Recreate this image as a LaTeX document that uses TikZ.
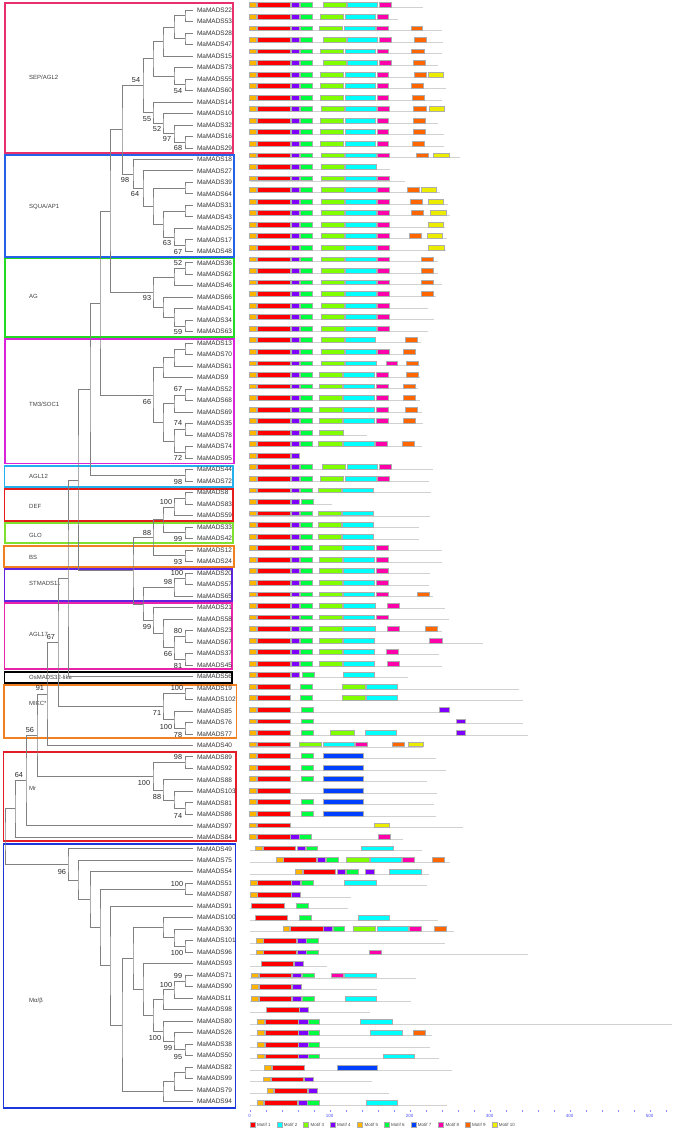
\documentclass[tikz,border=0pt]{standalone}
\usepackage{fontspec}
\setmainfont{Liberation Sans}
\usetikzlibrary{calc}

% Colores de motivos
\definecolor{mot1}{RGB}{255,0,0}
\definecolor{mot2}{RGB}{0,255,255}
\definecolor{mot3}{RGB}{128,255,0}
\definecolor{mot4}{RGB}{128,0,255}
\definecolor{mot5}{RGB}{255,180,0}
\definecolor{mot6}{RGB}{0,255,64}
\definecolor{mot7}{RGB}{0,64,255}
\definecolor{mot8}{RGB}{255,0,170}
\definecolor{mot9}{RGB}{255,102,0}
\definecolor{mot10}{RGB}{236,236,0}
% Colores de clados
\definecolor{cSEP}{RGB}{232,48,108}
\definecolor{cSQUA}{RGB}{38,98,232}
\definecolor{cAG}{RGB}{36,216,36}
\definecolor{cTM}{RGB}{216,36,216}
\definecolor{cAGL12}{RGB}{36,176,236}
\definecolor{cDEF}{RGB}{228,28,28}
\definecolor{cGLO}{RGB}{128,224,48}
\definecolor{cBS}{RGB}{240,128,32}
\definecolor{cSTM}{RGB}{96,36,224}
\definecolor{cAGL17}{RGB}{232,36,168}
\definecolor{cMr}{RGB}{228,28,40}
\definecolor{cMab}{RGB}{28,56,220}

\tikzset{
  rama/.style={draw=black!50, line width=0.75pt},
  hoja/.style={anchor=west, inner sep=0pt, font=\fontsize{6.5}{7}\selectfont, text=black!80},
  bs/.style={inner sep=0pt, font=\fontsize{7.3}{8}\selectfont, text=black!85},
  clado/.style={line width=1.6pt},
  cladotxt/.style={anchor=west, inner sep=0pt, font=\fontsize{6}{7}\selectfont, text=black!75},
  motivo/.style={draw=black!32, line width=0.3pt},
  proteina/.style={draw=black!18, line width=1pt},
  leyenda/.style={anchor=west, inner sep=0pt, font=\fontsize{4.5}{5}\selectfont, text=black!70},
  escala/.style={inner sep=0pt, font=\fontsize{4.5}{5}\selectfont, text=blue!70},
}

% Bloques de motivos frecuentes
\def\mikcN{5/249.5/256,1/257/290,4/291/299,6/300/312}
\def\kA{3/323/346,2/347/377,8/379/391}
\def\kB{3/320.5/343,2/345/375,8/377/388.5}
\def\kC{3/319/342.5,2/343.5/374,8/376/388}
\def\kD{3/321/344,2/345/376,8/377/389}

\newcommand\filamotivos[3]{%
  \pgfmathsetmacro\ybase{7.4+(#1-1)*11.55}%
  \draw[proteina] (249.5,{\ybase+0.4}) -- (#2,{\ybase+0.4});
  \edef\seglist{#3}%
  \foreach \m/\a/\b in \seglist {\draw[motivo, fill=mot\m] (\a,{\ybase-4.8}) rectangle (\b,\ybase);}%
}

\begin{document}
\begin{tikzpicture}[x=1pt, y=-1pt]
  \useasboundingbox (0,0) rectangle (675,1131);

  % Cajas de clados
  \foreach \xa/\ya/\xb/\yb/\col/\txt/\ty [count=\k] in {
    5/3/233/153/cSEP/{SEP/AGL2}/77,
    5/155/234/257/cSQUA/{SQUA/AP1}/207,
    5/258.5/234/337/cAG/AG/296,
    5/339/234/463.5/cTM/{TM3/SOC1}/404,
    4.5/466/233/487/cAGL12/AGL12/476,
    4.5/489/233/521/cDEF/DEF/506,
    5/523/233/543/cGLO/GLO/535,
    4/546/234/567/cBS/BS/557,
    4.5/569/232/601/cSTM/STMADS11/583,
    4.5/603/232/669/cAGL17/AGL17/634,
    4.5/672/232/683/black/OsMADS32-like/677,
    4/685/236.5/738/cBS/MIKC*/703,
    3.5/752/236/841/cMr/Mr/788,
    3.5/844/235.5/1108/cMab/{Mα/β}/1001} {
    \draw[clado, draw=\col] (\xa,\ya) rectangle (\xb,\yb);
    \node[cladotxt] (clado\k) at (29,\ty) {\txt};
  }

  % Hojas
  \foreach \lbl [count=\i] in {22,53,28,47,15,73,55,60,14,10,32,16,29,18,27,39,64,31,43,25,
      17,48,36,62,46,66,41,34,63,13,70,61,9,52,68,69,35,78,74,95,44,72,8,83,59,33,42,12,24,20,
      57,65,21,58,23,67,37,45,56,19,102,85,76,77,40,89,92,88,103,81,86,97,84,49,75,54,51,87,91,100,
      30,101,96,93,71,90,11,98,80,26,38,50,82,99,79,94} {
    \coordinate (L\i) at (193,{10+(\i-1)*11.49});
    \node[hoja] (t\i) at (196.8,{10+(\i-1)*11.49}) {MaMADS\lbl};
  }

  % Ramas (nodo/x/hijo1/hijo2)
  \foreach \nd/\xx/\ca/\cb in {
    a1/185/L1/L2, a2/185/L3/L4, a3/174/a1/a2, a4/163/a3/L5, a5/185/L7/L8, a6/174/L6/a5,
    a7/153/a4/a6, a8/185/L12/L13, a9/174/L11/a8, a10/163/L10/a9, a11/153/L9/a10, sep/143/a7/a11,
    b1/185/L16/L17, b2/185/L18/L19, b3/185/L21/L22, b4/174/L20/b3, b5/163/b2/b4, b6/153/b1/b5,
    b7/143/L15/b6, squa/133/L14/b7, c1/122/sep/squa,
    d1/185/L23/L24, d2/174/d1/L25, d3/185/L28/L29, d4/174/L27/d3, d5/163/L26/d4, ag/153/d2/d5,
    c2/110/c1/ag,
    e1/185/L30/L31, e2/174/e1/L32, e3/163/e2/L33, e4/185/L34/L35, e5/174/e4/L36, e6/185/L37/L38,
    e7/185/L39/L40, e8/174/e6/e7, e9/163/e5/e8, tm/153/e3/e9, c3/100/c2/tm,
    f1/185/L41/L42, c4/90/c3/f1,
    g1/185/L43/L44, g2/174/g1/L45, g3/185/L46/L47, g4/163/g2/g3, g5/185/L48/L49, g6/153/g4/g5,
    h1/185/L50/L51, h2/174/h1/L52,
    i1/185/L55/L56, i2/185/L57/L58, i3/174/i1/i2, i4/163/L54/i3, i5/153/L53/i4,
    h3/143/h2/i5, h4/133/g6/h3, k1/78/c4/h4, k2/68/k1/L59,
    j1/185/L60/L61, j2/185/L63/L64, j3/174/L62/j2, j4/163/j1/j3, k3/58/k2/j4, k4/47/k3/L65,
    m1/185/L66/L67, m2/185/L70/L71, m3/174/L69/m2, m4/163/L68/m3, m5/153/m1/m4,
    k5/37/k4/m5, k6/26/k5/L72, k7/15/k6/L73,
    p1/185/L77/L78, p2/185/L82/L83, p3/174/L81/p2, p4/163/L80/p3, p5/185/L85/L86, p6/174/p5/L87,
    p7/163/p6/L88, p8/185/L91/L92, p9/174/L90/p8, p10/163/L89/p9, p11/153/p7/p10, p12/143/L84/p11,
    p13/133/p4/p12, p14/185/L93/L94, p15/174/p14/L95, p16/163/p15/L96, p17/122/p13/p16,
    p18/110/L79/p17, p19/100/p1/p18, p20/90/L76/p19, p21/78/L75/p20, p22/68/L74/p21,
    raiz/5/k7/p22} {
    \path (\ca) -- (\cb) coordinate[pos=0.5] (tmp);
    \coordinate (\nd) at (tmp -| \xx,0);
    \draw[rama] (\ca) -| (\nd) |- (\cb);
  }

  % Valores bootstrap
  \foreach \xb/\yy/\v [count=\k] in {178/91/54, 136/80/54, 147/119/55, 157/129/52, 167/139/97,
      178/148/68, 125/180/98, 135/194/64, 167/243/63, 178/252/67, 178/263/52, 147/298/93,
      178/332/59, 178/389/67, 147/402/66, 178/423/74, 178/458/72, 178/482/98, 166/502/100,
      147/533/88, 178/539/99, 178/562/93, 177/573/100, 168/582/98, 147/627/99, 178/631/80,
      168/654/66, 178/666/81, 51/637/67, 40/688/91, 177/688/100, 157/713/71, 166/727/100,
      178/735/78, 30/730/56, 178/757/98, 144/783/100, 157/797/88, 178/816/74, 19/775/64,
      62/872/96, 177/884/100, 177/953/100, 178/976/99, 166/985/100, 155/1038/100,
      168/1048/99, 178/1057/95}
    \node[bs] (bs\k) at (\xb,\yy) {\v};

  % Motivos
  \filamotivos{1}{423}{\mikcN,\kA}
  \filamotivos{2}{398}{\mikcN,\kB}
  \filamotivos{3}{442}{\mikcN,3/319/342,2/344/375,8/376/388,9/411/422}
  \filamotivos{4}{443}{\mikcN,\kA,9/414/426}
  \filamotivos{5}{442}{\mikcN,\kB,9/411/424}
  \filamotivos{6}{438}{\mikcN,\kA,9/413/425}
  \filamotivos{7}{444}{\mikcN,\kB,9/414/426,10/428/443}
  \filamotivos{8}{446}{\mikcN,\kB,9/411/423}
  \filamotivos{9}{442}{\mikcN,\kB,9/412/424}
  \filamotivos{10}{445}{\mikcN,\kD,9/413/426,10/429/444}
  \filamotivos{11}{438}{\mikcN,\kB,9/413/425}
  \filamotivos{12}{444}{\mikcN,\kB,9/413/425}
  \filamotivos{13}{444}{\mikcN,\kB,9/412/424}
  \filamotivos{14}{460}{\mikcN,\kD,9/416/428,10/433/449}
  \filamotivos{15}{390}{\mikcN,3/321/344,2/345/376}
  \filamotivos{16}{405}{\mikcN,\kD}
  \filamotivos{17}{440}{\mikcN,\kD,9/407/419,10/421/436}
  \filamotivos{18}{448}{\mikcN,\kD,9/410/422,10/428/443}
  \filamotivos{19}{450}{\mikcN,\kD,9/411/423,10/430/446}
  \filamotivos{20}{445}{\mikcN,\kD,10/428/443}
  \filamotivos{21}{447}{\mikcN,\kD,9/409/421,10/427/442}
  \filamotivos{22}{446}{\mikcN,\kD,10/428/444}
  \filamotivos{23}{438}{\mikcN,\kD,9/421/433}
  \filamotivos{24}{438}{\mikcN,\kD,9/421/433}
  \filamotivos{25}{442}{\mikcN,\kD,9/421/433}
  \filamotivos{26}{436}{\mikcN,\kD,9/421/433}
  \filamotivos{27}{428}{\mikcN,\kD}
  \filamotivos{28}{434}{\mikcN,\kD}
  \filamotivos{29}{428}{\mikcN,\kD}
  \filamotivos{30}{421}{\mikcN,3/321/344,2/345/375,9/405/417}
  \filamotivos{31}{415}{\mikcN,\kD,9/403/415}
  \filamotivos{32}{420}{\mikcN,3/321/344,2/345/376,8/386/397,9/406/418}
  \filamotivos{33}{420}{\mikcN,\kC,9/406/418}
  \filamotivos{34}{418}{\mikcN,\kC,9/403/415}
  \filamotivos{35}{420}{\mikcN,\kC,9/403/415}
  \filamotivos{36}{422}{\mikcN,\kC,9/405/417}
  \filamotivos{37}{423}{\mikcN,\kC,9/403/415}
  \filamotivos{38}{367}{\mikcN,3/319/343}
  \filamotivos{39}{422}{\mikcN,3/318.5/342,2/343/374,8/375/387,9/402/414}
  \filamotivos{40}{299}{5/249.5/256,1/257/290,4/291/299}
  \filamotivos{41}{433}{\mikcN,3/322/345,2/347/377,8/379/391}
  \filamotivos{42}{429}{\mikcN,3/320/343,2/345/376,8/377/389}
  \filamotivos{43}{431}{\mikcN,3/318/341,2/342/373}
  \filamotivos{44}{332}{5/249.5/256,1/257/290,4/291/299,6/301/313}
  \filamotivos{45}{430}{\mikcN,3/318/341,2/342/373}
  \filamotivos{46}{419}{\mikcN,3/318/341,2/342/373}
  \filamotivos{47}{419}{\mikcN,3/318/341,2/342/373}
  \filamotivos{48}{442}{\mikcN,\kC}
  \filamotivos{49}{442}{\mikcN,\kC}
  \filamotivos{50}{430}{\mikcN,\kC}
  \filamotivos{51}{429}{\mikcN,\kC}
  \filamotivos{52}{433}{\mikcN,\kC,9/417/429}
  \filamotivos{53}{445}{\mikcN,3/319/342,2/343/375,8/387/399}
  \filamotivos{54}{449}{\mikcN,\kC}
  \filamotivos{55}{442}{\mikcN,3/319/342,2/343/375,8/387/399,9/425/437}
  \filamotivos{56}{483}{\mikcN,3/319/342,2/343/374,8/429/442}
  \filamotivos{57}{439}{\mikcN,3/319/342,2/343/374,8/386/398}
  \filamotivos{58}{442}{\mikcN,3/319/342,2/343/374,8/387/399}
  \filamotivos{59}{408}{5/249.5/256,1/257/290,4/291/299,6/302/314,2/343/374}
  \filamotivos{60}{519}{5/249.5/256,1/257/290,6/300/312,3/342/365,2/366/397}
  \filamotivos{61}{523}{5/249.5/256,1/257/290,6/300/312,3/342/365,2/366/397}
  \filamotivos{62}{449}{5/249.5/256,1/257/290,6/301/313,4/439/449}
  \filamotivos{63}{523}{5/249.5/256,1/257/290,6/301/313,4/456/465}
  \filamotivos{64}{528}{5/249.5/256,1/257/290,6/301/313,3/330/354,2/365/396,4/456/465}
  \filamotivos{65}{423}{5/249.5/256,1/257/290,3/299/321,2/323/354,8/355/367,9/392/404,10/408/423}
  \filamotivos{66}{436}{5/249.5/256,1/257/290,6/301/313,7/323/363}
  \filamotivos{67}{446}{5/249.5/256,1/257/290,6/301/313,7/323/363}
  \filamotivos{68}{427}{5/249.5/256,1/257/290,6/301/313,7/323/363}
  \filamotivos{69}{437}{5/249.5/256,1/257/290,7/323/363}
  \filamotivos{70}{434}{5/249.5/256,1/257/290,6/301/313,7/323/363}
  \filamotivos{71}{436}{5/249.5/256,1/257/290,6/301/313,7/323/363}
  \filamotivos{72}{463}{5/249.5/256,1/257/290,10/374/389}
  \filamotivos{73}{403}{5/249.5/256,1/257/290,4/290/299,6/299/311,8/378/390}
  \filamotivos{74}{422}{5/255/262,1/263/295,4/297/305,6/306/317,2/361/393}
  \filamotivos{75}{450}{5/276/283,1/283.5/316,4/317/325,6/326/338,3/346/369,2/370/401,8/402/414,9/432/444}
  \filamotivos{76}{429}{5/295/302,1/303/335,4/337/345,6/346/358,4/365/374,2/389/421}
  \filamotivos{77}{427}{5/250/257,1/257.5/291,4/291.5/300,6/301/313,2/344/376}
  \filamotivos{78}{351}{5/250/257,1/257.5/291,4/291.5/300}
  \filamotivos{79}{348}{1/251/284,6/296/308}
  \filamotivos{80}{438}{1/255/287,6/299/311,2/358/389}
  \filamotivos{81}{454}{5/283/289.5,1/290/323,4/323.5/332,6/333/344,3/353/375,2/377/408,8/409/421,9/434/446}
  \filamotivos{82}{445}{5/256/263,1/263.5/296,4/297/306,6/306/318}
  \filamotivos{83}{528}{5/256/263,1/263.5/296,4/297/306,6/306/318,8/369/381}
  \filamotivos{84}{327}{1/261/293,4/294/303}
  \filamotivos{85}{416}{5/251/258,1/259/291,4/292/301,6/302/314,8/331/343,2/344/376}
  \filamotivos{86}{377}{5/251/258,1/259/291,4/292/301}
  \filamotivos{87}{411}{5/251/258,1/259/291,4/292/301,6/302/314,2/345/376}
  \filamotivos{88}{370}{1/266/299,4/299.5/308}
  \filamotivos{89}{672}{5/257/264,1/265/298,4/298.5/308,6/308/319,2/360/392}
  \filamotivos{90}{432}{5/257/264,1/265/298,4/298.5/308,6/308/319,2/370/402,9/413/425}
  \filamotivos{91}{430}{5/257/264,1/265/298,4/298.5/308,6/308/319}
  \filamotivos{92}{439}{5/257/264,1/265/298,4/298.5/308,6/308/319,2/383/414}
  \filamotivos{93}{452}{5/264/271,1/272/304,7/337/377}
  \filamotivos{94}{372}{5/263/270,1/271/303,4/304/313}
  \filamotivos{95}{389}{5/267/273,1/274/307,4/308/317}
  \filamotivos{96}{447}{5/257/263,1/264/297,4/298/307,6/307/319,2/366/397}

  % Escala
  \foreach \t in {0,20,...,520}
    \draw[blue!45, line width=0.4pt] ({249.7+0.8*\t},1110) -- ({249.7+0.8*\t},1112.3);
  \foreach \t in {0,100,...,500}
    \node[escala] (esc\t) at ({249.7+0.8*\t},1115.8) {\t};

  % Leyenda
  \foreach \xl [count=\i] in {250,276.7,303.3,330,357.3,384,410.7,438.3,465,491.7} {
    \draw[motivo, fill=mot\i] (\xl,1122.5) rectangle ({\xl+5},1127.5);
    \node[leyenda] (ley\i) at ({\xl+7},1125) {Motif \i};
  }
\end{tikzpicture}
\end{document}
